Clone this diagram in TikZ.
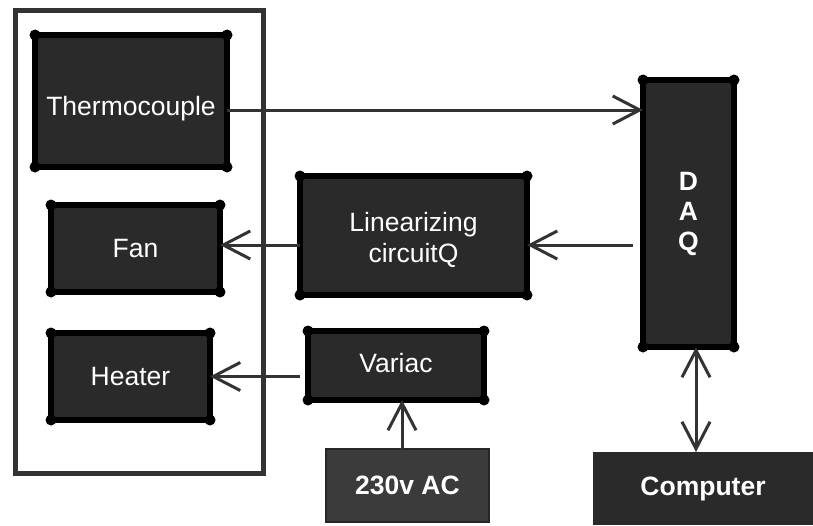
\documentclass[tikz,border=0pt]{standalone}
\usepackage{fontspec}
\setmainfont{Liberation Sans}
\usetikzlibrary{arrows.meta}
\definecolor{boxfill}{HTML}{2A2A2A}
\definecolor{acfill}{HTML}{3B3B3B}
\definecolor{linecol}{HTML}{333333}
\newcommand{\dnshift}[2]{\raisebox{-#1}[\height][\depth]{#2}}
\begin{document}
\begin{tikzpicture}[x=1pt,y=-1pt,
  blk/.style={draw=black, line width=6.5pt, fill=boxfill, text=white, outer sep=0pt, inner sep=0pt,
    font=\fontsize{26.5}{31}\selectfont, align=center},
  plainblk/.style={fill=boxfill, text=white, inner sep=0pt, outer sep=0pt,
    font=\bfseries\fontsize{26.5}{30}\selectfont, align=center},
  tipb/.tip={Straight Barb[length=27pt,width=28pt]},
  arr/.style={draw=linecol, line width=3pt, -tipb},
  arrboth/.style={draw=linecol, line width=3pt, tipb-tipb}]
\useasboundingbox (0,0) rectangle (813,525);
% enclosure
\draw[linecol, line width=5pt] (15,10) rectangle (263,473);
% blocks
\node[blk, minimum width=192pt, minimum height=132pt] (thermo) at (131,101) {\dnshift{8pt}{Thermocouple}};
\node[blk, minimum width=169pt, minimum height=87pt] (fan) at (135.5,248.5) {Fan};
\node[blk, minimum width=159pt, minimum height=87pt] (heater) at (130.5,376.5) {Heater};
\node[blk, minimum width=227pt, minimum height=119pt,
  label={[text=white, font=\fontsize{26.5}{31}\selectfont, align=center, yshift=-4pt]center:{Linearizing\\circuitQ}}] (lin) at (413.5,235.5) {};
\node[blk, minimum width=176pt, minimum height=69pt] (variac) at (396,365.5) {\dnshift{-2pt}{Variac}};
\node[blk, minimum width=91pt, minimum height=267pt, font=\bfseries\fontsize{26.5}{30}\selectfont] (daq) at (688.5,213.5) {D\\A\\Q};
\node[plainblk, fill=acfill, draw=black!85, line width=1.5pt, minimum width=163pt, minimum height=73pt] (ac) at (407.5,485.5) {230v AC};
\node[plainblk, minimum width=220pt, minimum height=73pt] (comp) at (703,488.5) {Computer};
% corner dots
\foreach \n in {thermo,fan,heater,lin,variac,daq}
  \foreach \a in {north west,north east,south west,south east}
    \fill[black] (\n.\a) circle (5.5pt);
% connectors
\coordinate (t1) at ([yshift=-9pt]thermo.east);
\draw[arr] (t1) -- (t1 -| daq.west);
\coordinate (l1) at ([yshift=-9.5pt]lin.east);
\coordinate (d1) at (daq.west |- l1);
\draw[arr] ([xshift=-10pt]d1) -- (l1);
\coordinate (l2) at ([yshift=-9.5pt]lin.west);
\draw[arr] (l2) -- (l2 -| fan.east);
\coordinate (h1) at (variac.west |- heater.east);
\draw[arr] ([xshift=-8pt]h1) -- (heater.east);
\coordinate (a1) at ([xshift=-5.5pt]ac.north);
\draw[arr] (a1) -- (a1 |- variac.south);
\coordinate (c1) at ([xshift=7.5pt]daq.south);
\draw[arrboth] (c1) -- (c1 |- comp.north);
\end{tikzpicture}
\end{document}
